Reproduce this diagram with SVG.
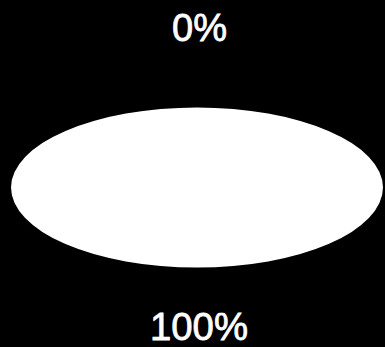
<svg xmlns="http://www.w3.org/2000/svg" width="385" height="347" viewBox="0 0 385 347">
<style>
.lbl{font-family:"Liberation Sans",Arial,sans-serif;font-size:39px;fill:#fff;stroke:#fff;stroke-width:0.8px}
</style>
<rect x="0" y="0" width="385" height="347" fill="#000"/>
<g id="ellipse"><ellipse cx="197" cy="187.5" rx="186" ry="80" fill="#fff"/></g>
<g id="top-label"><text class="lbl" x="172" y="41" textLength="55" lengthAdjust="spacingAndGlyphs">0%</text></g>
<g id="bottom-label"><text class="lbl" x="150" y="340" textLength="98" lengthAdjust="spacingAndGlyphs">100%</text></g>
</svg>
